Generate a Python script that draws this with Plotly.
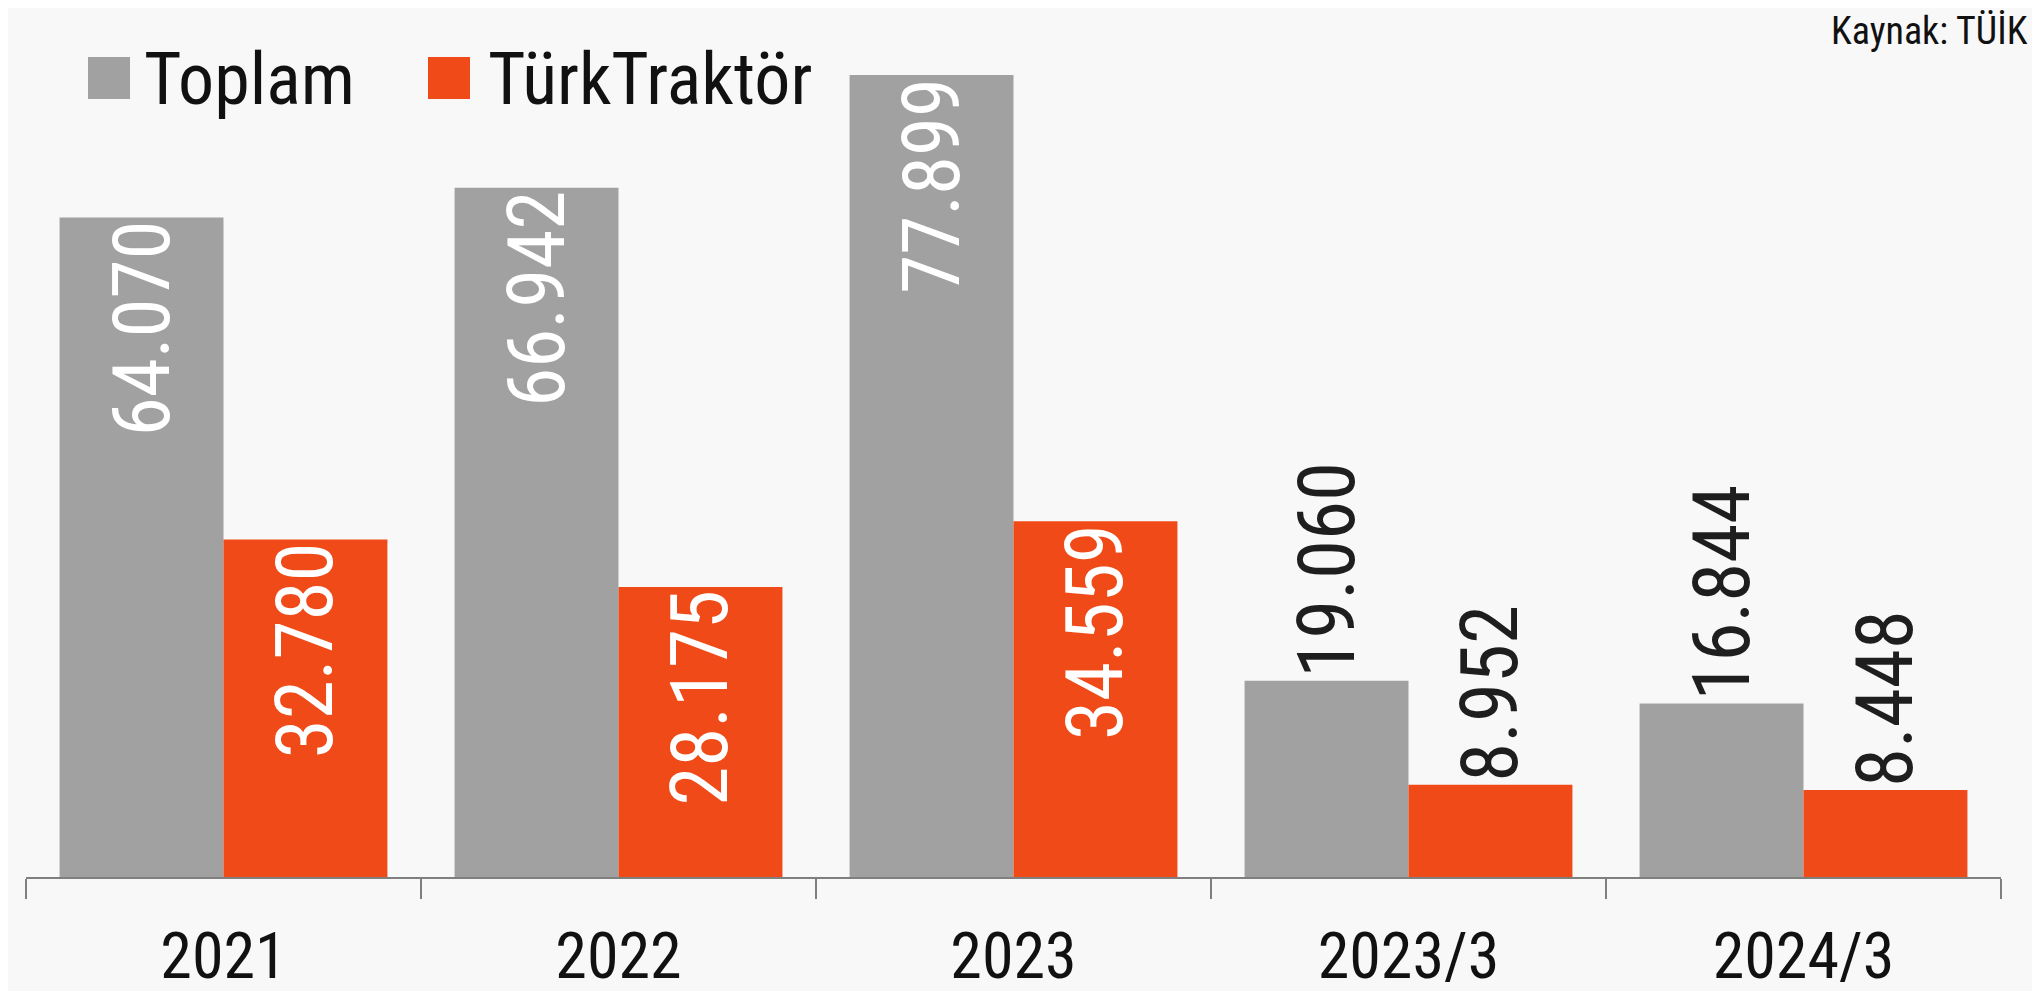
import plotly.graph_objects as go

# data
categories = ['2021', '2022', '2023', '2023/3', '2024/3']
series_names = ['Toplam', 'TürkTraktör']
toplam = [64070, 66942, 77899, 19060, 16844]
turktraktor = [32780, 28175, 34559, 8952, 8448]
source_text = 'Kaynak: TÜİK'

colors = ['#A1A1A1', '#EF4A18']
FONT = 'Roboto Condensed, Noto Sans Condensed, DejaVu Sans Condensed, sans-serif'

W, H = 2040, 991
OFF = 8  # page body margin shifts the figure
L, R, T, B = 18, 47, 32, 122


def px_x(p):
    # screen pixel -> paper fraction
    return (p - OFF - L) / (W - L - R)


def px_y(p):
    return (H - B - (p - OFF)) / (H - B - T)


def fmt(v):
    return f'{v:,}'.replace(',', '.')


fig = go.Figure()
for name, vals, col in zip(series_names, [toplam, turktraktor], colors):
    fig.add_trace(go.Bar(
        x=categories,
        y=vals,
        name=name,
        marker=dict(color=col, line=dict(width=0)),
        text=[fmt(v) for v in vals],
        textposition=['inside' if v > 25000 else 'outside' for v in vals],
        textangle=-90,
        insidetextanchor='end',
        insidetextfont=dict(family=FONT, size=79, color='white'),
        outsidetextfont=dict(family=FONT, size=79, color='#1e1e1e'),
        constraintext='none',
        cliponaxis=False,
    ))

# hand-made legend (big squares)
legend_items = [(88, 142), (428, 486)]
for (sx, tx), name, col in zip(legend_items, series_names, colors):
    fig.add_shape(type='rect', xref='paper', yref='paper',
                  x0=px_x(sx), x1=px_x(sx + 42), y0=px_y(99), y1=px_y(57),
                  fillcolor=col, line=dict(width=0))
    fig.add_annotation(xref='paper', yref='paper', x=px_x(tx), y=px_y(79),
                       text=name, showarrow=False, xanchor='left', yanchor='middle',
                       font=dict(family=FONT, size=72, color='#111111'))

fig.add_annotation(xref='paper', yref='paper', x=px_x(2030), y=px_y(31),
                   text=source_text, showarrow=False, xanchor='right', yanchor='middle',
                   font=dict(family=FONT, size=38, color='#111111'))

fig.update_layout(
    width=W, height=H,
    margin=dict(l=L, r=R, t=T, b=B, autoexpand=False),
    barmode='group',
    bargap=0.17,
    bargroupgap=0,
    showlegend=False,
    paper_bgcolor='#F8F8F8',
    plot_bgcolor='#F8F8F8',
    xaxis=dict(
        showline=True, linecolor='#7f7f7f', linewidth=2,
        ticks='outside', tickson='boundaries', ticklen=20,
        tickcolor='#7f7f7f', tickwidth=1.5,
        tickfont=dict(family=FONT, size=64, color='#111111'),
        ticklabelstandoff=22,
        showgrid=False,
        automargin=False,
    ),
    yaxis=dict(visible=False, range=[0, 81300], showgrid=False, zeroline=False,
               automargin=False),
)

fig.write_html('out.html')
